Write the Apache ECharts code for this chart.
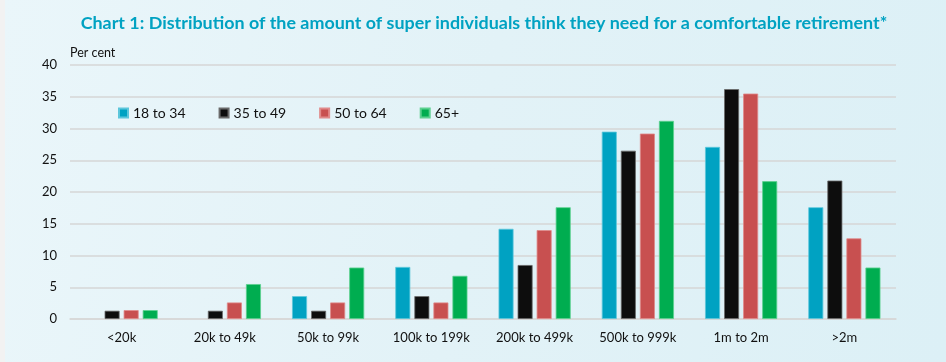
<!DOCTYPE html>
<html><head><meta charset="utf-8">
<script src="https://cdn.jsdelivr.net/npm/echarts@6/dist/echarts.min.js"></script>
<style>
html,body{margin:0;padding:0;}
body{width:946px;height:362px;background:linear-gradient(100deg,#eaf6fa 0%,#e2f2f7 50%,#dcf0f6 100%);position:relative;}
#strip{position:absolute;left:0;top:0;width:5px;height:362px;background:#f2f2f2;}
#c{position:absolute;left:0;top:0;width:946px;height:362px;}
</style></head>
<body><div id="strip"></div><div id="c"></div>
<script>
const categories = ['<20k','20k to 49k','50k to 99k','100k to 199k','200k to 499k','500k to 999k','1m to 2m','>2m'];
const seriesNames = ['18 to 34','35 to 49','50 to 64','65+'];
const age18to34 = [null, null, 3.6, 8.2, 14.2, 29.5, 27.1, 17.6];
const age35to49 = [1.3, 1.3, 1.3, 3.6, 8.5, 26.5, 36.2, 21.8];
const age50to64 = [1.4, 2.6, 2.6, 2.6, 14.0, 29.2, 35.5, 12.7];
const age65plus = [1.4, 5.5, 8.1, 6.8, 17.6, 31.2, 21.7, 8.1];
const yTicks = [0, 5, 10, 15, 20, 25, 30, 35, 40];

const colors = ['#00a2c2', '#0d0d0d', '#c85050', '#00ad50'];
const borders = ['#5cc6db', '#6a6a6a', '#e08a8a', '#5cd08f'];
const values = [age18to34, age35to49, age50to64, age65plus];
const font = 'Lato, "Open Sans", sans-serif';

const chart = echarts.init(document.getElementById('c'));
chart.setOption({
  animation: false,
  title: {
    text: 'Chart 1: Distribution of the amount of super individuals think they need for a comfortable retirement*',
    left: 479, top: 9, textAlign: 'center',
    textStyle: {color: '#00a2c2', fontSize: 17.9, fontWeight: 'bold', fontFamily: font}
  },
  graphic: [{
    type: 'text', left: 70, top: 46,
    style: {text: 'Per cent', fontSize: 12.5, fill: '#111', fontFamily: font}
  }],
  legend: {
    data: seriesNames,
    left: 118, top: 106, padding: 0,
    itemWidth: 9, itemHeight: 9, itemGap: 33,
    icon: 'rect',
    textStyle: {fontSize: 14, color: '#111', fontFamily: font}
  },
  grid: {left: 70, right: 50, top: 65, bottom: 43},
  xAxis: {
    type: 'category', data: categories,
    axisTick: {show: false},
    axisLine: {lineStyle: {color: '#d6d6d6', width: 1.5}},
    axisLabel: {fontSize: 13, color: '#111', fontFamily: font, margin: 12}
  },
  yAxis: {
    type: 'value', min: 0, max: 40, interval: 5,
    axisLabel: {fontSize: 13, color: '#111', fontFamily: font, margin: 13,
      formatter: v => yTicks.includes(v) ? String(v) : ''},
    splitLine: {lineStyle: {color: '#d6d6d6', width: 1.5}},
    axisLine: {show: false}, axisTick: {show: false}
  },
  series: values.map((d, i) => ({
    name: seriesNames[i], type: 'bar', data: d,
    barWidth: 15, barGap: '27%',
    itemStyle: {color: colors[i], borderColor: borders[i], borderWidth: 0.8},
  }))
});
</script></body></html>
